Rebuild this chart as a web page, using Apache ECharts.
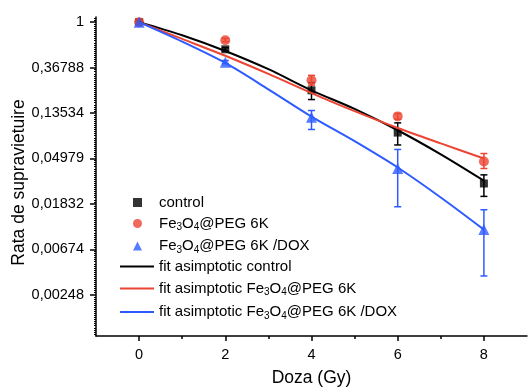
<!DOCTYPE html>
<html>
<head>
<meta charset="utf-8">
<script src="https://cdn.jsdelivr.net/npm/echarts@6/dist/echarts.min.js"></script>
<style>
  html, body { margin: 0; padding: 0; background: #fff; }
  #chart { width: 529px; height: 388px; }
</style>
</head>
<body>
<div id="chart"></div>
<script>
// measured points (dose in Gy, surviving fraction)
const doses = [0, 2, 4, 6, 8];
const controlMean = [1, 0.55, 0.223, 0.088, 0.0287];
const controlLow = [1, 0.53, 0.182, 0.067, 0.0216];
const controlHigh = [1, 0.57, 0.264, 0.109, 0.0347];
const pegMean = [1, 0.672, 0.278, 0.1256, 0.0465];
const pegLow = [1, 0.65, 0.25, 0.118, 0.0399];
const pegHigh = [1, 0.70, 0.31, 0.134, 0.0555];
const doxMean = [1, 0.414, 0.123, 0.040, 0.0104];
const doxLow = [1, 0.40, 0.0942, 0.0172, 0.00375];
const doxHigh = [1, 0.43, 0.143, 0.0607, 0.0161];

// fitted curves
const fitDose = [0, 1, 2, 3, 4, 5, 6, 7, 8];
const fitControl = [1, 0.75, 0.53, 0.355, 0.223, 0.148, 0.0926, 0.0545, 0.0305];
const fitPeg = [1, 0.691, 0.477, 0.320, 0.210, 0.141, 0.0973, 0.0693, 0.0498];
const fitDox = [1, 0.651, 0.407, 0.228, 0.125, 0.0728, 0.0408, 0.0211, 0.0104];

// axis ticks
const yTickValues = [1, 0.36788, 0.13534, 0.04979, 0.01832, 0.00674, 0.00248];
const yTickLabels = ['1', '0,36788', '0,13534', '0,04979', '0,01832', '0,00674', '0,00248'];
const xTickValues = [0, 2, 4, 6, 8];
const xMinorTicks = [1, 3, 5, 7];

const BLACK = '#000000';
const RED = '#EC4532';
const BLUE = '#2E5BFF';
const FONT = '"Liberation Sans", Arial, sans-serif';

const chart = echarts.init(document.getElementById('chart'));

function zip(xs, ys) {
  return xs.map((x, i) => [x, ys[i]]);
}
function errRows(lo, hi) {
  return doses.map((d, i) => [d, lo[i], hi[i]]);
}

// dense minor ticks along the log axis (style only)
const yMinor = [];
for (let k = -7; k <= 0; k++) {
  for (let j = 1; j < 22; j++) {
    const v = Math.exp(k + j / 22);
    if (v > 0.001 && v < 1.12) yMinor.push(v);
  }
}

function errorBar(color) {
  return function (params, api) {
    const lo = api.value(1), hi = api.value(2);
    if (lo === hi) return null;
    const a = api.coord([api.value(0), lo]);
    const b = api.coord([api.value(0), hi]);
    const w = 3.5;
    const style = { stroke: color, lineWidth: 1.5, fill: null };
    return {
      type: 'group',
      children: [
        { type: 'line', shape: { x1: a[0], y1: a[1], x2: b[0], y2: b[1] }, style: style },
        { type: 'line', shape: { x1: a[0] - w, y1: a[1], x2: a[0] + w, y2: a[1] }, style: style },
        { type: 'line', shape: { x1: b[0] - w, y1: b[1], x2: b[0] + w, y2: b[1] }, style: style }
      ]
    };
  };
}

function fmtName(name) {
  return name.replace('Fe3O4', 'Fe{s|3}O{s|4}');
}
const legendText = {
  color: '#000', fontSize: 15, fontFamily: FONT,
  rich: { s: { fontSize: 10, fontFamily: FONT, color: '#000', padding: [8, 0, 0, 0] } }
};

const option = {
  animation: false,
  backgroundColor: '#fff',
  grid: { left: 96, right: 2, top: 17, bottom: 52, containLabel: false, outerBoundsMode: 'none' },
  legend: [
    {
      orient: 'vertical', left: 133, top: 195, padding: 0,
      itemWidth: 9, itemHeight: 9, itemGap: 6,
      formatter: fmtName,
      textStyle: Object.assign({ padding: [0, 0, 0, 12] }, legendText),
      data: ['control', 'Fe3O4@PEG 6K', 'Fe3O4@PEG 6K /DOX']
    },
    {
      orient: 'vertical', left: 120, top: 259, padding: 0,
      itemWidth: 34, itemHeight: 2, itemGap: 7,
      formatter: fmtName,
      textStyle: legendText,
      data: [
        { name: 'fit asimptotic control', icon: 'rect' },
        { name: 'fit asimptotic Fe3O4@PEG 6K', icon: 'rect' },
        { name: 'fit asimptotic Fe3O4@PEG 6K /DOX', icon: 'rect' }
      ]
    }
  ],
  xAxis: [
    {
      type: 'value', min: -1, max: 9,
      name: 'Doza (Gy)', nameLocation: 'middle', nameGap: 33,
      nameTextStyle: { fontSize: 17.5, fontFamily: FONT, color: '#000' },
      axisLine: { onZero: false, lineStyle: { color: '#000', width: 1.5 } },
      axisTick: { customValues: xTickValues, length: 5, lineStyle: { color: '#000', width: 1.5 } },
      axisLabel: { customValues: xTickValues, margin: 11, fontSize: 14.5, fontFamily: FONT, color: '#000' },
      splitLine: { show: false }
    },
    {
      type: 'value', min: -1, max: 9, position: 'bottom',
      axisLine: { show: false, onZero: false },
      axisTick: { customValues: xMinorTicks, length: 3, lineStyle: { color: '#000', width: 1.5 } },
      axisLabel: { show: false },
      splitLine: { show: false }
    }
  ],
  yAxis: [
    {
      type: 'log', logBase: Math.E, min: 0.001, max: 1.12,
      name: 'Rata de supravietuire', nameLocation: 'middle', nameGap: 68, nameMoveOverlap: false,
      nameTextStyle: { fontSize: 17.5, fontFamily: FONT, color: '#000', padding: [0, 12, 0, 0] },
      axisLine: { onZero: false, lineStyle: { color: '#000', width: 1.5 } },
      axisTick: { customValues: yTickValues, length: 6, lineStyle: { color: '#000', width: 1.5 } },
      axisLabel: {
        customValues: yTickValues, margin: 12, fontSize: 14.5, fontFamily: FONT, color: '#000',
        formatter: function (v) {
          let best = 0;
          yTickValues.forEach((t, i) => {
            if (Math.abs(Math.log(t) - Math.log(v)) < Math.abs(Math.log(yTickValues[best]) - Math.log(v))) best = i;
          });
          return yTickLabels[best];
        }
      },
      splitLine: { show: false }
    },
    {
      type: 'log', logBase: Math.E, min: 0.001, max: 1.12, position: 'left',
      axisLine: { show: false, onZero: false },
      axisTick: { customValues: yMinor, length: 2, lineStyle: { color: '#000', width: 1 } },
      axisLabel: { show: false },
      splitLine: { show: false }
    }
  ],
  series: [
    {
      name: 'fit asimptotic control', type: 'line', smooth: 0.3, symbol: 'none',
      color: BLACK, lineStyle: { color: BLACK, width: 2 }, data: zip(fitDose, fitControl)
    },
    {
      name: 'fit asimptotic Fe3O4@PEG 6K', type: 'line', smooth: 0.3, symbol: 'none',
      color: RED, lineStyle: { color: RED, width: 2 }, data: zip(fitDose, fitPeg)
    },
    {
      name: 'fit asimptotic Fe3O4@PEG 6K /DOX', type: 'line', smooth: 0.3, symbol: 'none',
      color: BLUE, lineStyle: { color: BLUE, width: 2 }, data: zip(fitDose, fitDox)
    },
    {
      name: 'err control', type: 'custom', renderItem: errorBar(BLACK),
      encode: { x: 0, y: [1, 2] }, data: errRows(controlLow, controlHigh)
    },
    {
      name: 'err peg', type: 'custom', renderItem: errorBar(RED),
      encode: { x: 0, y: [1, 2] }, data: errRows(pegLow, pegHigh)
    },
    {
      name: 'err dox', type: 'custom', renderItem: errorBar(BLUE),
      encode: { x: 0, y: [1, 2] }, data: errRows(doxLow, doxHigh)
    },
    {
      name: 'control', type: 'scatter', symbol: 'rect', symbolSize: 8,
      itemStyle: { color: BLACK }, data: zip(doses, controlMean)
    },
    {
      name: 'Fe3O4@PEG 6K', type: 'scatter', symbol: 'circle', symbolSize: 10,
      itemStyle: { color: RED }, data: zip(doses, pegMean)
    },
    {
      name: 'Fe3O4@PEG 6K /DOX', type: 'scatter', symbol: 'triangle', symbolSize: 11,
      itemStyle: { color: BLUE }, data: zip(doses, doxMean)
    }
  ]
};

chart.setOption(option);
window.addEventListener('resize', function () { chart.resize(); });
</script>
</body>
</html>
